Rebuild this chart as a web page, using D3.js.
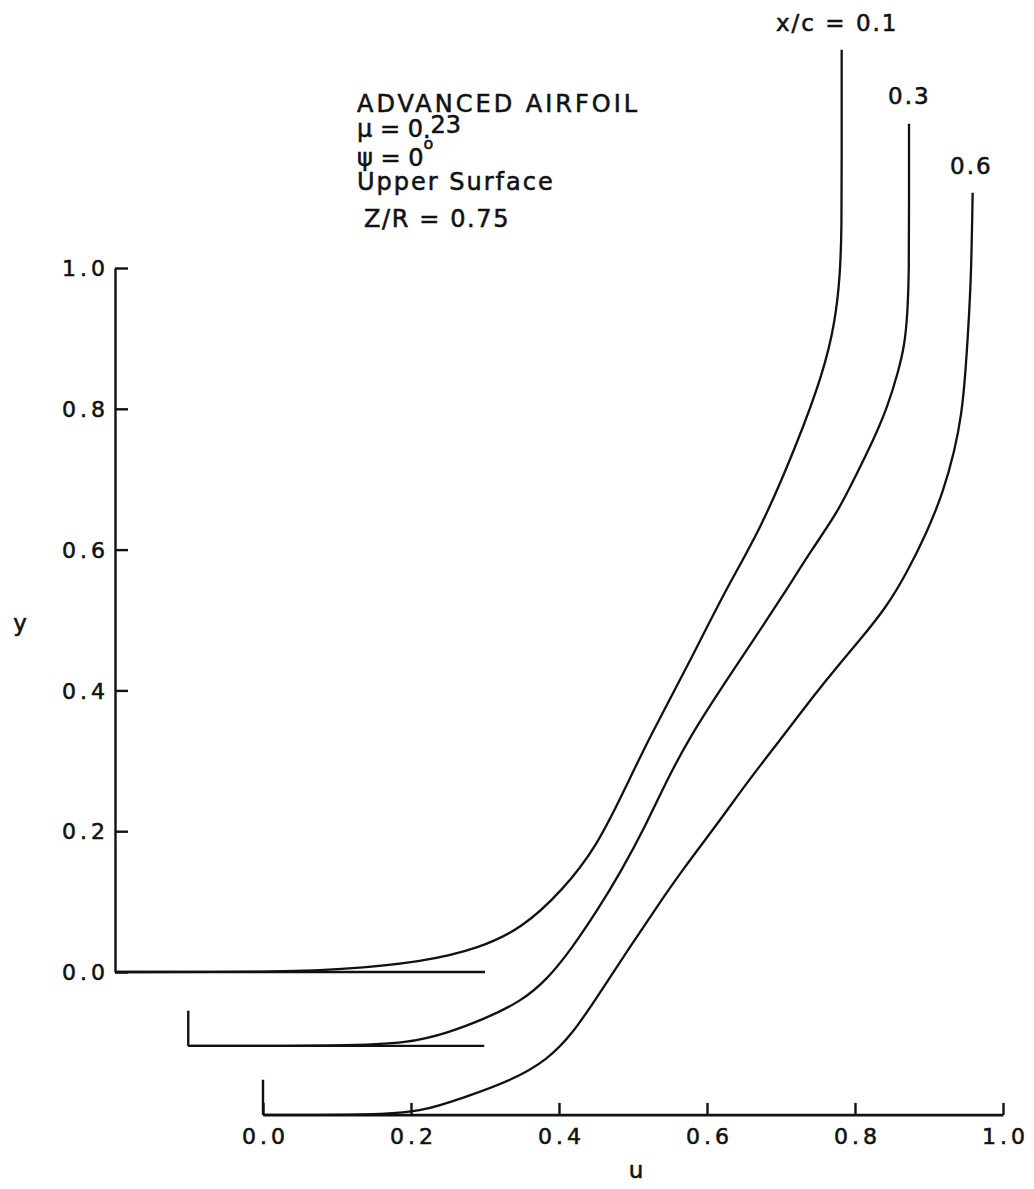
<!DOCTYPE html>
<html>
<head>
<meta charset="utf-8">
<script src="https://cdn.jsdelivr.net/npm/d3@7"></script>
<style>
  html, body { margin: 0; padding: 0; background: #fff; }
  svg { display: block; }
  text { font-family: "DejaVu Sans", sans-serif; fill: #111; stroke: #111; stroke-width: 0.55px; }
</style>
</head>
<body>
<svg id="chart" width="1034" height="1189"></svg>
<script>
// ---- data ----
const xTicks = [0.0, 0.2, 0.4, 0.6, 0.8, 1.0];
const yTicks = [0.0, 0.2, 0.4, 0.6, 0.8, 1.0];
const stations = ["x/c = 0.1", "0.3", "0.6"];
// profile offsets (u, y) relative to the lower axis / left axis
const offsetU = [-0.2, -0.101, 0.0];
const offsetY = [0.0, -0.105, -0.203];
const baselineEnd = [0.5, 0.4, 1.0];

const profile01 = [
  [0.0, 0], [0.22, 0], [0.30, 0.003], [0.416, 0.014], [0.493, 0.034], [0.550, 0.062],
  [0.605, 0.116], [0.651, 0.178], [0.690, 0.262], [0.722, 0.333], [0.773, 0.433],
  [0.827, 0.547], [0.872, 0.628], [0.922, 0.751], [0.957, 0.851], [0.973, 0.922],
  [0.980, 0.990], [0.982, 1.06], [0.982, 1.15], [0.982, 1.31], [0.982, 1.31]
];
const profile03 = [
  [0.0, 0], [0.22, 0], [0.296, 0.004], [0.350, 0.018], [0.404, 0.040], [0.449, 0.063],
  [0.485, 0.094], [0.520, 0.141], [0.553, 0.193], [0.584, 0.246], [0.620, 0.317],
  [0.647, 0.378], [0.678, 0.439], [0.719, 0.506], [0.764, 0.577], [0.800, 0.634],
  [0.845, 0.709], [0.877, 0.757], [0.904, 0.814], [0.926, 0.861], [0.945, 0.908],
  [0.959, 0.956], [0.968, 0.995], [0.972, 1.040], [0.974, 1.10], [0.974, 1.20],
  [0.974, 1.31], [0.974, 1.31]
];
const profile06 = [
  [0.0, 0], [0.15, 0], [0.212, 0.004], [0.270, 0.024], [0.338, 0.050], [0.384, 0.078],
  [0.419, 0.116], [0.455, 0.173], [0.496, 0.239], [0.532, 0.295], [0.564, 0.344],
  [0.618, 0.419], [0.654, 0.472], [0.699, 0.533], [0.743, 0.594], [0.780, 0.642],
  [0.807, 0.675], [0.843, 0.722], [0.870, 0.770], [0.897, 0.827], [0.919, 0.884],
  [0.935, 0.945], [0.944, 0.995], [0.949, 1.050], [0.953, 1.115], [0.957, 1.190],
  [0.959, 1.31], [0.959, 1.31]
];
const profiles = [profile01, profile03, profile06];

// ---- scales ----
const x = d3.scaleLinear().domain([0, 1]).range([263, 1003]);
const y = d3.scaleLinear().domain([0, 1]).range([972, 268]);

const svg = d3.select("#chart");
const fmt = d3.format(".1f");

// left axis (belongs to first profile)
const left = svg.append("g").attr("transform", `translate(${x(offsetU[0])},0)`)
  .call(d3.axisLeft(y).tickValues(yTicks).tickFormat(fmt)
    .tickSizeInner(-13).tickSizeOuter(0).tickPadding(14));
left.selectAll("path, line").attr("stroke", "#111").attr("stroke-width", 2.4);
left.selectAll("text").attr("font-size", 22).attr("letter-spacing", 4)
  .attr("dx", 8).attr("dy", "0.35em").style("font-family", '"DejaVu Sans", sans-serif').attr("fill", "#111");

// bottom axis (belongs to third profile)
const bottom = svg.append("g").attr("transform", `translate(0,${y(offsetY[2])})`)
  .call(d3.axisBottom(x).tickValues(xTicks).tickFormat(fmt)
    .tickSizeInner(-12).tickSizeOuter(0).tickPadding(10));
bottom.selectAll("path, line").attr("stroke", "#111").attr("stroke-width", 2.4);
bottom.selectAll("text").attr("font-size", 22).attr("letter-spacing", 4)
  .attr("dx", 2).attr("dy", "0.85em").style("font-family", '"DejaVu Sans", sans-serif').attr("fill", "#111");

// baselines and origin stubs for each profile
profiles.forEach((p, i) => {
  const g = svg.append("g");
  g.append("line")
    .attr("x1", x(offsetU[i])).attr("x2", x(offsetU[i] + baselineEnd[i]))
    .attr("y1", y(offsetY[i])).attr("y2", y(offsetY[i]))
    .attr("stroke", "#111").attr("stroke-width", 2.4);
  if (i > 0) {
    g.append("line")
      .attr("x1", x(offsetU[i])).attr("x2", x(offsetU[i]))
      .attr("y1", y(offsetY[i])).attr("y2", y(offsetY[i] + 0.05))
      .attr("stroke", "#111").attr("stroke-width", 2.4);
  }
});

// curves
const line = d3.line().curve(d3.curveBasis);
profiles.forEach((p, i) => {
  svg.append("path")
    .attr("d", line(p.map(d => [x(d[0] + offsetU[i]), y(d[1] + offsetY[i])])))
    .attr("fill", "none").attr("stroke", "#111").attr("stroke-width", 2.3)
    .attr("stroke-linejoin", "round");
});

// station labels
const stationPos = [[776, 31], [888, 104], [950, 174]];
stations.forEach((s, i) => {
  svg.append("text").attr("x", stationPos[i][0]).attr("y", stationPos[i][1])
    .attr("font-size", 23).attr("letter-spacing", 2).text(s);
});

// info block
const info = svg.append("g").attr("font-size", 24);
info.append("text").attr("x", 357).attr("y", 112).attr("letter-spacing", 3).text("ADVANCED AIRFOIL");
const mu = info.append("text").attr("x", 357).attr("y", 137);
mu.append("tspan").text("μ = 0");
mu.append("tspan").attr("dy", 1).text(".");
mu.append("tspan").attr("dy", -5).text("23");
const psi = info.append("text").attr("x", 357).attr("y", 166);
psi.append("tspan").text("ψ = 0");
psi.append("tspan").attr("dy", -17).attr("font-size", 16).text("o");
info.append("text").attr("x", 357).attr("y", 190).attr("letter-spacing", 2).text("Upper Surface");
info.append("text").attr("x", 364).attr("y", 227).attr("letter-spacing", 1.6).text("Z/R = 0.75");

// axis titles
svg.append("text").attr("x", 20).attr("y", 631).attr("text-anchor", "middle")
  .attr("font-size", 23).text("y");
svg.append("text").attr("x", 636).attr("y", 1178).attr("text-anchor", "middle")
  .attr("font-size", 23).text("u");
</script>
</body>
</html>
